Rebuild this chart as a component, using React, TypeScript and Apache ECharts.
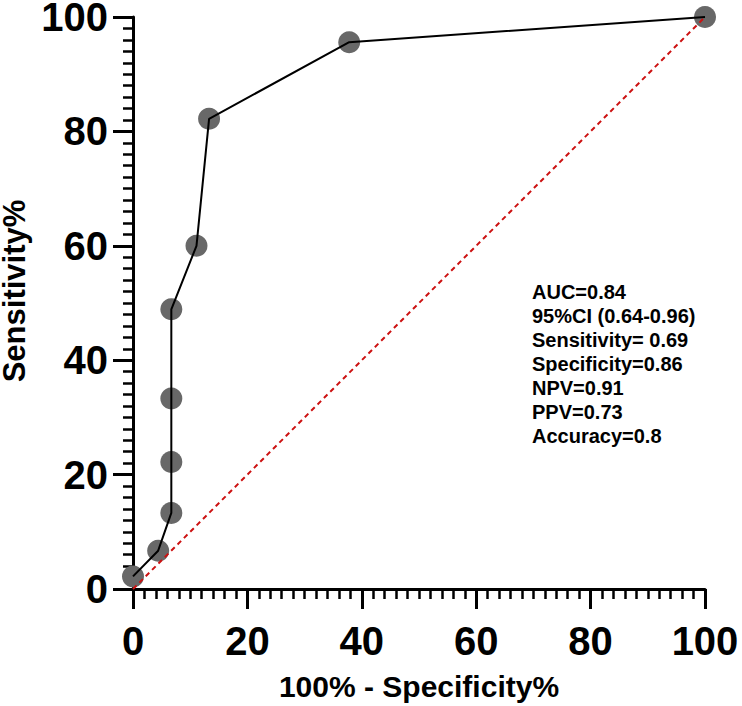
import React, { useEffect, useRef } from "react";
import * as echarts from "echarts";

const fprValues = [0, 4.4, 6.7, 6.7, 6.7, 6.7, 11.1, 13.3, 37.8, 100];
const sensitivityValues = [2.2, 6.7, 13.3, 22.2, 33.3, 48.9, 60, 82.2, 95.6, 100];
const referenceLine = [
  [0, 0],
  [100, 100],
];
const statsLines = [
  "AUC=0.84",
  "95%CI (0.64-0.96)",
  "Sensitivity= 0.69",
  "Specificity=0.86",
  "NPV=0.91",
  "PPV=0.73",
  "Accuracy=0.8",
];
const xAxisName = "100% - Specificity%";
const yAxisName = "Sensitivity%";

const FONT = 'Arial, "Liberation Sans", Helvetica, sans-serif';

export default function App() {
  const ref = useRef<HTMLDivElement>(null);

  useEffect(() => {
    document.body.style.margin = "0";
    const chart = echarts.init(ref.current!, null, { renderer: "svg" });
    const points = fprValues.map((x, i) => [x, sensitivityValues[i]]);

    const axisCommon = {
      type: "value",
      min: 0,
      max: 100,
      interval: 20,
      splitLine: { show: false },
      axisLine: { show: true, lineStyle: { color: "#000", width: 3 } },
      axisTick: { show: true, length: 20, lineStyle: { color: "#000", width: 3 } },
      minorTick: { show: true, splitNumber: 10, length: 10, lineStyle: { color: "#000", width: 2.5 } },
      minorSplitLine: { show: false },
      axisLabel: {
        color: "#000",
        fontFamily: FONT,
        fontWeight: "bold",
        fontSize: 40,
      },
      nameLocation: "middle",
      nameTextStyle: {
        color: "#000",
        fontFamily: FONT,
        fontWeight: "bold",
        fontSize: 30,
      },
    };

    chart.setOption({
      animation: false,
      backgroundColor: "#fff",
      grid: {
        left: 133,
        right: 37,
        top: 17,
        bottom: 117,
        containLabel: false,
        outerBoundsMode: "none",
      },
      xAxis: {
        ...axisCommon,
        name: xAxisName,
        nameGap: 82,
        axisLabel: { ...axisCommon.axisLabel, margin: 32 },
      },
      yAxis: {
        ...axisCommon,
        name: yAxisName,
        nameGap: 102,
        nameRotate: 90,
        nameTextStyle: {
          ...axisCommon.nameTextStyle,
          fontSize: 31,
          lineHeight: 28,
          padding: [0, 0, 0, 24],
        },
        axisLabel: { ...axisCommon.axisLabel, margin: 25, lineHeight: 34 },
      },
      series: [
        {
          type: "scatter",
          data: points,
          symbol: "circle",
          symbolSize: 22,
          itemStyle: { color: "#686868", opacity: 1 },
          clip: false,
          z: 1,
        },
        {
          type: "line",
          data: referenceLine,
          showSymbol: false,
          symbol: "none",
          lineStyle: { color: "#cc1111", width: 2, type: [5, 4] },
          clip: false,
          z: 2,
        },
        {
          type: "line",
          data: points,
          showSymbol: false,
          symbol: "none",
          lineStyle: { color: "#000", width: 2 },
          clip: false,
          z: 3,
        },
      ],
      graphic: [
        {
          type: "text",
          left: 532,
          top: 280,
          z: 10,
          style: {
            text: statsLines.join("\n"),
            fill: "#000",
            font: `bold 20px ${FONT}`,
            lineHeight: 24,
          },
        },
      ],
    });

    return () => chart.dispose();
  }, []);

  return <div ref={ref} style={{ width: 742, height: 706 }} />;
}
